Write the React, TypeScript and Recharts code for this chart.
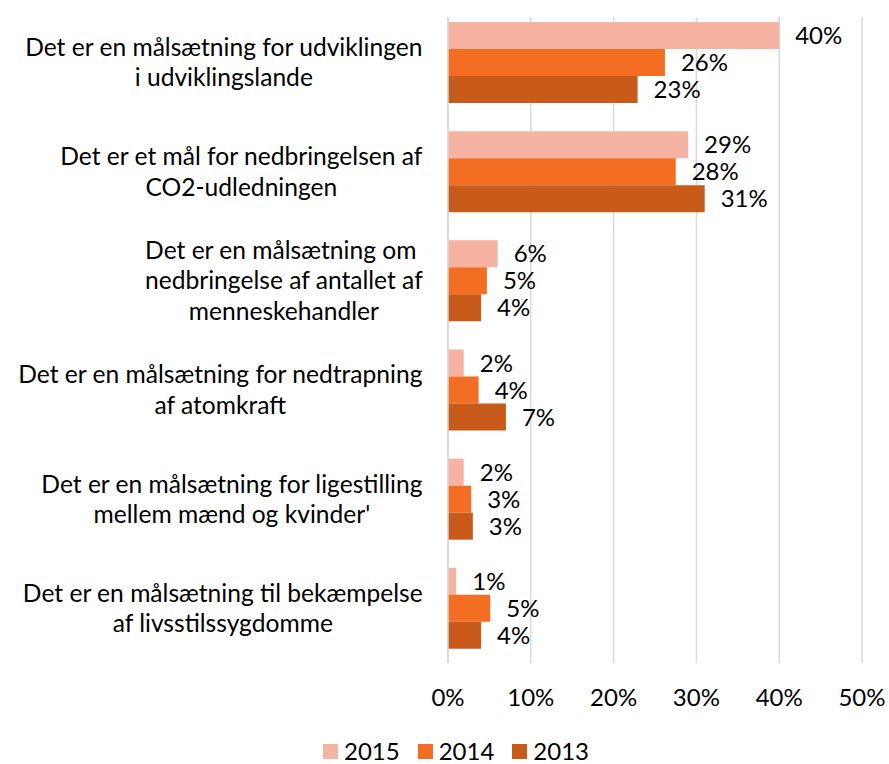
import React from "react";
import { Bar, BarChart, CartesianGrid, LabelList, Legend, XAxis, YAxis } from "recharts";

const FONT = "Lato, 'Open Sans', sans-serif";
const FS = 24;
const CAT_FS = 24.6;

const categoryLines = [
  ["Det er en målsætning for udviklingen", "i udviklingslande"],
  ["Det er et mål for nedbringelsen af", "CO2-udledningen"],
  ["Det er en målsætning om ", "nedbringelse af antallet af", "menneskehandler"],
  ["Det er en målsætning for nedtrapning", "af atomkraft"],
  ["Det er en målsætning for ligestilling", "mellem mænd og kvinder'"],
  ["Det er en målsætning til bekæmpelse", "af livsstilssygdomme"],
];
const categories = categoryLines.map((l) => l.join(" "));

const v2015 = [40, 29, 6, 1.9, 1.9, 1.0];
const v2014 = [26.2, 27.5, 4.7, 3.7, 2.8, 5.1];
const v2013 = [22.9, 31, 4, 7, 3, 4];

const xTicks = [0, 10, 20, 30, 40, 50];

const series = [
  { key: "y2015", name: "2015", color: "#F7B3A2", values: v2015 },
  { key: "y2014", name: "2014", color: "#F36E23", values: v2014 },
  { key: "y2013", name: "2013", color: "#C85B19", values: v2013 },
];

const data = categories.map((c, i) => {
  const row: Record<string, string | number> = { name: c };
  series.forEach((s) => (row[s.key] = s.values[i]));
  return row;
});

const grid = "#d9d9d9";

let ctx: CanvasRenderingContext2D | null = null;
function textW(s: string) {
  if (!ctx) ctx = document.createElement("canvas").getContext("2d");
  if (!ctx) return s.length * 11;
  ctx.font = `${CAT_FS}px ${FONT}`;
  return ctx.measureText(s).width;
}

function CatTick(props: any) {
  const { y, payload } = props;
  const idx = categories.indexOf(payload.value);
  const lines = categoryLines[idx] || [String(payload.value)];
  const right = 423;
  const w = Math.max(...lines.map(textW));
  const cx = right - w / 2;
  const n = lines.length;
  return (
    <g>
      {lines.map((l, i) => (
        <text
          key={i}
          x={cx}
          y={y + (i - (n - 1) / 2) * 30.5 + 8.5}
          textAnchor="middle"
          fill="#000"
          fontSize={CAT_FS}
          fontFamily={FONT}
          style={{ whiteSpace: "pre" }}
        >
          {l}
        </text>
      ))}
    </g>
  );
}

function LegendBox() {
  return (
    <div
      style={{
        height: 40,
        display: "flex",
        justifyContent: "center",
        alignItems: "flex-end",
        paddingLeft: 68,
        paddingBottom: 1,
        boxSizing: "border-box",
        fontFamily: FONT,
        fontSize: FS,
        lineHeight: "24px",
        color: "#000",
      }}
    >
      {series.map((s) => (
        <span key={s.key} style={{ display: "flex", alignItems: "center", marginRight: 18 }}>
          <span style={{ width: 15, height: 15, background: s.color, marginRight: 6, display: "inline-block" }} />
          {s.name}
        </span>
      ))}
    </div>
  );
}

export default function App() {
  return (
    <div style={{ position: "absolute", left: 0, top: 0, width: 889, height: 764, background: "#fff" }}>
      <BarChart
        width={889}
        height={764}
        data={data}
        layout="vertical"
        margin={{ top: 8, right: 27, bottom: 0, left: 0 }}
        barCategoryGap={14}
        barGap={0}
      >
        <CartesianGrid horizontal={false} stroke={grid} strokeWidth={1.5} />
        <XAxis
          type="number"
          domain={[0, 50]}
          ticks={xTicks}
          tickFormatter={(v) => `${v}%`}
          axisLine={false}
          tickLine={false}
          tickSize={0}
          tickMargin={26}
          height={61}
          tick={{ fill: "#000", fontSize: FS, fontFamily: FONT }}
        />
        <YAxis
          type="category"
          dataKey="name"
          width={448}
          axisLine={{ stroke: grid, strokeWidth: 1.5 }}
          tickLine={false}
          tick={<CatTick />}
          interval={0}
        />
        <Legend verticalAlign="bottom" height={40} content={() => <LegendBox />} />
        {series.map((s) => (
          <Bar key={s.key} dataKey={s.key} name={s.name} fill={s.color} isAnimationActive={false}>
            <LabelList
              dataKey={s.key}
              position="right"
              offset={16}
              formatter={(v: any) => `${Math.round(Number(v))}%`}
              fill="#000"
              fontSize={FS}
              fontFamily={FONT}
            />
          </Bar>
        ))}
      </BarChart>
      <div style={{ position: "absolute", left: 430, top: 0, width: 459, height: 17, background: "#fff" }} />
    </div>
  );
}
